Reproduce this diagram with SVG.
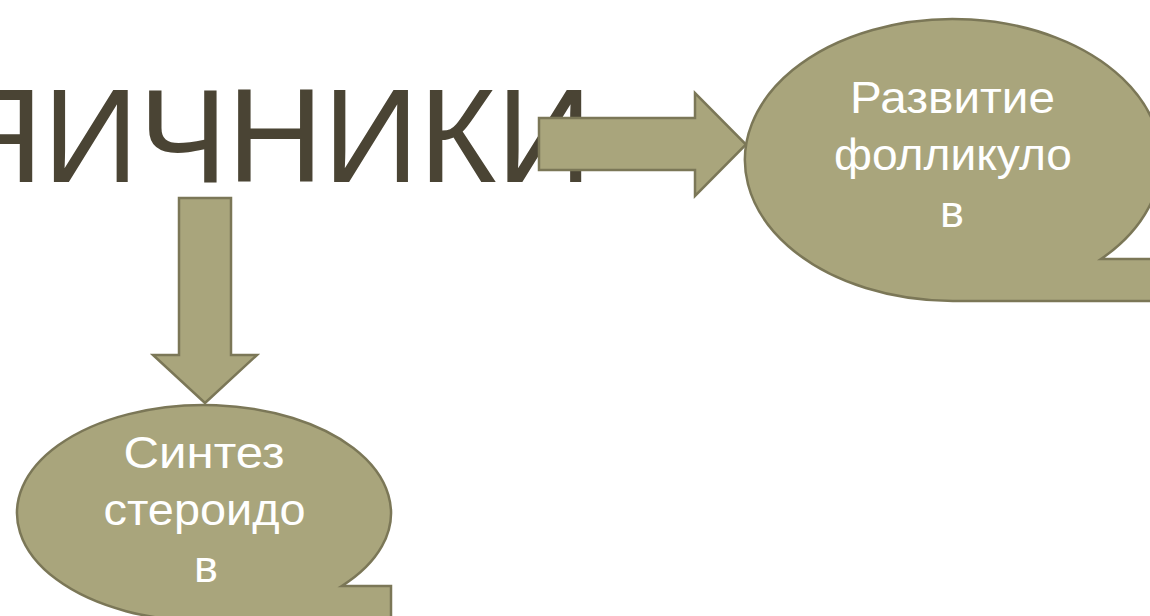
<svg xmlns="http://www.w3.org/2000/svg" width="1150" height="616" viewBox="0 0 1150 616">
  <style>
    .shape { fill: #A9A57C; stroke: #7B7757; stroke-width: 2.5; stroke-linejoin: miter; }
    .title { font-family: "Liberation Sans", Arial, sans-serif; font-size: 133px; fill: #4A4434; }
    .label { font-family: "Liberation Sans", Arial, sans-serif; font-size: 44px; fill: #FFFFFF; text-anchor: middle; }
  </style>
  <rect x="0" y="0" width="1150" height="616" fill="#FFFFFF"/>
  <g id="title">
    <text class="title" x="-53" y="182">ЯИЧНИКИ</text>
  </g>
  <g id="connectors">
    <path class="shape" d="M539,118 L695,118 L695,93 L746,144.5 L695,196 L695,170 L539,170 Z"/>
    <path class="shape" d="M179,198 L231,198 L231,355 L257,355 L205,403 L153,355 L179,355 Z"/>
  </g>
  <g id="node-follicles">
    <path class="shape" d="M953,301 A208 141 0 1 1 1101,259 L1165,259 L1165,301 Z"/>
    <text class="label" x="952.5" y="113" textLength="205" lengthAdjust="spacingAndGlyphs">Развитие</text>
    <text class="label" x="953" y="170" textLength="238" lengthAdjust="spacingAndGlyphs">фолликуло</text>
    <text class="label" x="952" y="227" textLength="24" lengthAdjust="spacingAndGlyphs">в</text>
  </g>
  <g id="node-steroids">
    <path class="shape" d="M204,621 A187 108 0 1 1 341.8,586 L391,586 L391,625 Z"/>
    <text class="label" x="204" y="468" textLength="161" lengthAdjust="spacingAndGlyphs">Синтез</text>
    <text class="label" x="204.5" y="525" textLength="202" lengthAdjust="spacingAndGlyphs">стероидо</text>
    <text class="label" x="206" y="582" textLength="24" lengthAdjust="spacingAndGlyphs">в</text>
  </g>
</svg>
